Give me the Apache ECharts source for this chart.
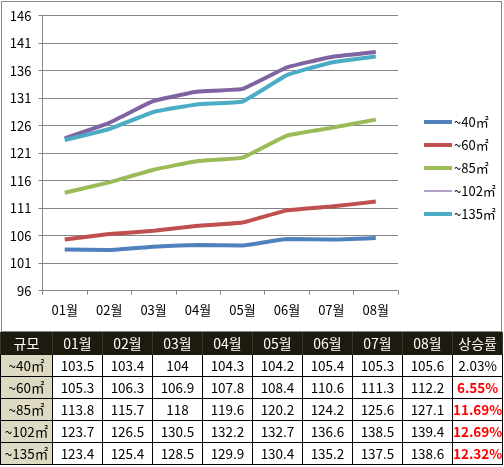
<!DOCTYPE html>
<html>
<head>
<meta charset="utf-8">
<script src="https://cdn.jsdelivr.net/npm/echarts@6/dist/echarts.min.js"></script>
<style>
  html, body { margin: 0; padding: 0; background: #fff; }
  #wrap { position: relative; width: 504px; height: 467px; overflow: hidden; background: #fff; }
  #chart { position: absolute; left: 0; top: 0; width: 504px; height: 332px; }
  #frame { position: absolute; left: 1px; top: 1px; width: 501px; height: 331px; box-sizing: border-box; border: 1px solid #868686; pointer-events: none; }
  #tbl { position: absolute; left: 0; top: 332px; border-collapse: collapse; table-layout: fixed;
         font-family: "Noto Sans CJK KR", "Noto Sans", sans-serif; font-size: 13.5px; color: #000; }
  #tbl td, #tbl th { border: 1px solid #000; height: 21px; padding: 0; text-align: center; line-height: 21px; white-space: nowrap; font-weight: normal; }
  #tbl th { background: #1D1B10; color: #fff; font-size: 14px; border-color: #1D1B10 #3a3828; }
  #tbl td.lab { background: #DDD9C3; }
  #tbl td.hot { color: #FF0000; font-weight: bold; }
</style>
</head>
<body>
<div id="wrap">
  <div id="chart"></div>
  <div id="frame"></div>
  <table id="tbl"></table>
</div>
<script>
const months = ['01월','02월','03월','04월','05월','06월','07월','08월'];
const seriesNames = ['~40㎡','~60㎡','~85㎡','~102㎡','~135㎡'];
const s40  = [103.5, 103.4, 104, 104.3, 104.2, 105.4, 105.3, 105.6];
const s60  = [105.3, 106.3, 106.9, 107.8, 108.4, 110.6, 111.3, 112.2];
const s85  = [113.8, 115.7, 118, 119.6, 120.2, 124.2, 125.6, 127.1];
const s102 = [123.7, 126.5, 130.5, 132.2, 132.7, 136.6, 138.5, 139.4];
const s135 = [123.4, 125.4, 128.5, 129.9, 130.4, 135.2, 137.5, 138.6];
const riseRates = ['2.03%','6.55%','11.69%','12.69%','12.32%'];
const yTickLabels = ['96','101','106','111','116','121','126','131','136','141','146'];
const tableHeader = ['규모'].concat(months).concat(['상승률']);

const colors = ['#4F81BD','#C0504D','#9BBB59','#8064A2','#4BACC6'];
const allSeries = [s40, s60, s85, s102, s135];
const FONT = '"Noto Sans CJK KR", "Noto Sans", sans-serif';

const chart = echarts.init(document.getElementById('chart'), null, {renderer: 'canvas'});
const yMin = Number(yTickLabels[0]);
const yMax = Number(yTickLabels[yTickLabels.length - 1]);

chart.setOption({
  animation: false,
  backgroundColor: 'transparent',
  grid: { left: 42.5, right: 106, top: 15.7, bottom: 41.3, containLabel: false },
  legend: {
    orient: 'vertical',
    left: 417, top: 110.5,
    itemWidth: 28, itemHeight: 14, itemGap: 10,
    itemStyle: { opacity: 0 },
    lineStyle: { width: 4 },
    textStyle: { fontFamily: FONT, fontSize: 13, color: '#000', padding: [0,0,0,-3] },
    data: seriesNames.map((n, i) => i === 3
      ? { name: n, lineStyle: { width: 1.2 } }
      : { name: n })
  },
  xAxis: {
    type: 'category',
    data: months,
    boundaryGap: true,
    axisLine: { lineStyle: { color: '#868686', width: 1 } },
    axisTick: { show: true, length: 4, lineStyle: { color: '#868686' } },
    axisLabel: { color: '#000', fontFamily: FONT, fontSize: 13, margin: 13 },
    splitLine: { show: false }
  },
  yAxis: [
    {
      type: 'value', min: yMin, max: yMax,
      axisLine: { show: false }, axisTick: { show: false },
      axisLabel: { show: false }, splitLine: { show: false }
    },
    {
      type: 'value', min: 0, max: yTickLabels.length - 1, interval: 1,
      position: 'left',
      axisLine: { show: true, lineStyle: { color: '#868686', width: 1 } },
      axisTick: { show: true, length: 4, lineStyle: { color: '#868686' } },
      axisLabel: { color: '#000', fontFamily: FONT, fontSize: 13, margin: 11,
                   formatter: v => yTickLabels[v] },
      splitLine: { show: true, lineStyle: { color: '#868686', width: 1 } }
    }
  ],
  series: allSeries.map((d, i) => ({
    name: seriesNames[i],
    type: 'line',
    yAxisIndex: 0,
    data: d,
    showSymbol: false,
    symbol: 'none',
    smooth: 0.1,
    z: 3 + i,
    lineStyle: { color: colors[i], width: 4 },
    itemStyle: { color: colors[i] }
  }))
});

// table
const tbl = document.getElementById('tbl');
const colW = [52, 50, 50, 50, 50, 50, 50, 50, 50, 50];
let html = '<colgroup>' + colW.map(w => '<col style="width:' + w + 'px">').join('') + '</colgroup>';
html += '<tr>' + tableHeader.map(h => '<th>' + h + '</th>').join('') + '</tr>';
allSeries.forEach((d, i) => {
  html += '<tr><td class="lab">' + seriesNames[i] + '</td>' +
    d.map(v => '<td>' + v + '</td>').join('') +
    '<td class="' + (i === 0 ? '' : 'hot') + '">' + riseRates[i] + '</td></tr>';
});
tbl.innerHTML = html;
</script>
</body>
</html>
